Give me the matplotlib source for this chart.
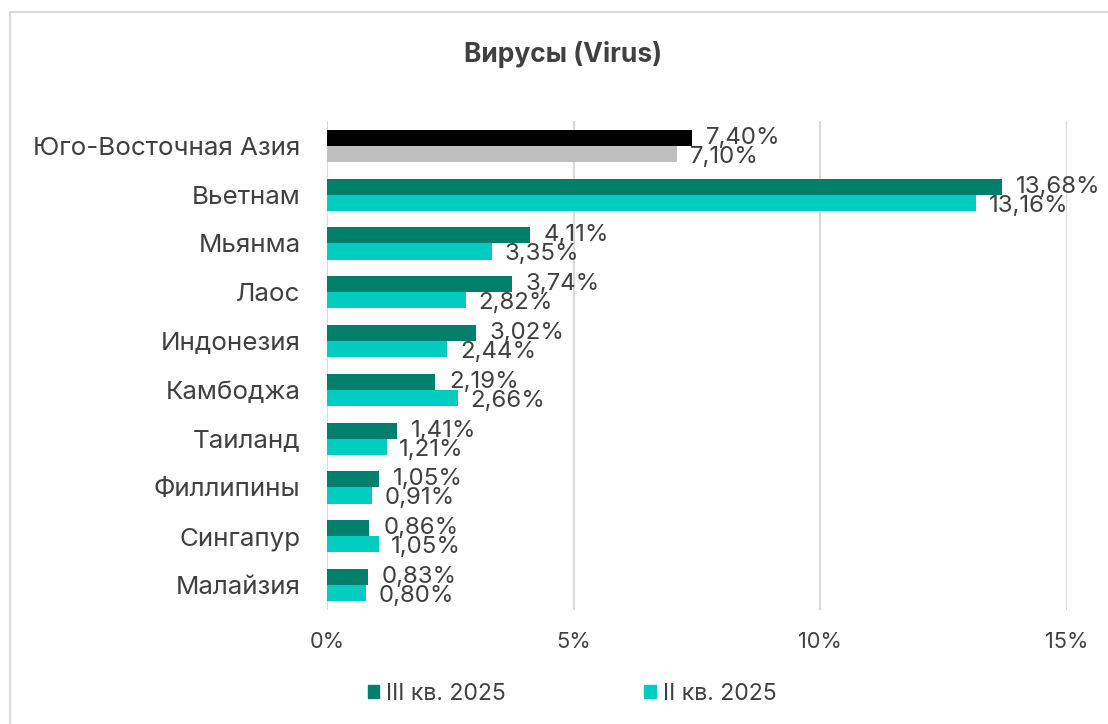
import matplotlib
matplotlib.use("Agg")
import matplotlib.pyplot as plt
from matplotlib.patches import Rectangle
import numpy as np

categories = ["Юго-Восточная Азия", "Вьетнам", "Мьянма", "Лаос", "Индонезия",
              "Камбоджа", "Таиланд", "Филлипины", "Сингапур", "Малайзия"]
q3 = [7.40, 13.68, 4.11, 3.74, 3.02, 2.19, 1.41, 1.05, 0.86, 0.83]
q2 = [7.10, 13.16, 3.35, 2.82, 2.44, 2.66, 1.21, 0.91, 1.05, 0.80]
series_names = ["III кв. 2025", "II кв. 2025"]
xticks = [0, 5, 10, 15]
xticklabels = ["0%", "5%", "10%", "15%"]
title = "Вирусы (Virus)"

c_q3 = "#00806A"
c_q2 = "#00CCC0"
c_total3 = "#000000"
c_total2 = "#BFBFBF"
txt = "#404040"

plt.rcParams['font.family'] = ['Inter', 'DejaVu Sans']

W, H = 1108, 724
fig = plt.figure(figsize=(W / 100, H / 100), dpi=100)
ax = fig.add_axes([327 / W, 1 - 609.5 / H, (1067 - 327) / W, (609.5 - 121.5) / H])

n = len(categories)
y = np.arange(n)
bh = 0.33
cols3 = [c_total3] + [c_q3] * (n - 1)
cols2 = [c_total2] + [c_q2] * (n - 1)
ax.barh(y - bh / 2, q3, height=bh, color=cols3, zorder=3)
ax.barh(y + bh / 2, q2, height=bh, color=cols2, zorder=3)

def fmt(v):
    return f"{v:.2f}%".replace(".", ",")

for i in range(n):
    ax.annotate(fmt(q3[i]), (q3[i], y[i] - bh / 2), xytext=(10, 0), textcoords="offset points",
                va="center", ha="left", fontsize=17.3, color=txt, zorder=5)
    ax.annotate(fmt(q2[i]), (q2[i], y[i] + bh / 2), xytext=(9, -2), textcoords="offset points",
                va="center", ha="left", fontsize=17.3, color=txt, zorder=5)

ax.set_xlim(0, 15)
ax.set_ylim(n - 0.5, -0.5)
ax.set_xticks(xticks)
ax.set_xticklabels(xticklabels)
ax.set_yticks(y)
ax.set_yticklabels(categories)
ax.tick_params(axis="x", length=0, pad=16, labelsize=15.7, labelcolor=txt)
ax.tick_params(axis="y", length=0, pad=19, labelsize=18.7, labelcolor=txt)
ax.grid(axis="x", color="#D9D9D9", linewidth=1.5, zorder=0)
for s in ax.spines.values():
    s.set_visible(False)

fig.text(563 / W, 1 - 55 / H, title, ha="center", va="center", fontsize=19,
         fontweight="bold", color=txt)

# legend
handles = [Rectangle((0, 0), 1, 1, color=c_q3), Rectangle((0, 0), 1, 1, color=c_q2)]
leg = fig.legend(handles, series_names, loc="center", bbox_to_anchor=(572 / W, 1 - 694 / H),
                 ncol=2, frameon=False, fontsize=16.6, handlelength=0.5, handleheight=0.5,
                 handletextpad=0.3, columnspacing=6.0, labelcolor=txt)

# border
fig.add_artist(Rectangle((10 / W, -0.1), 1.2, 1 - 12 / H + 0.1, transform=fig.transFigure,
                         fill=False, edgecolor="#D9D9D9", linewidth=1.5))

fig.savefig("out.png", dpi=100)
